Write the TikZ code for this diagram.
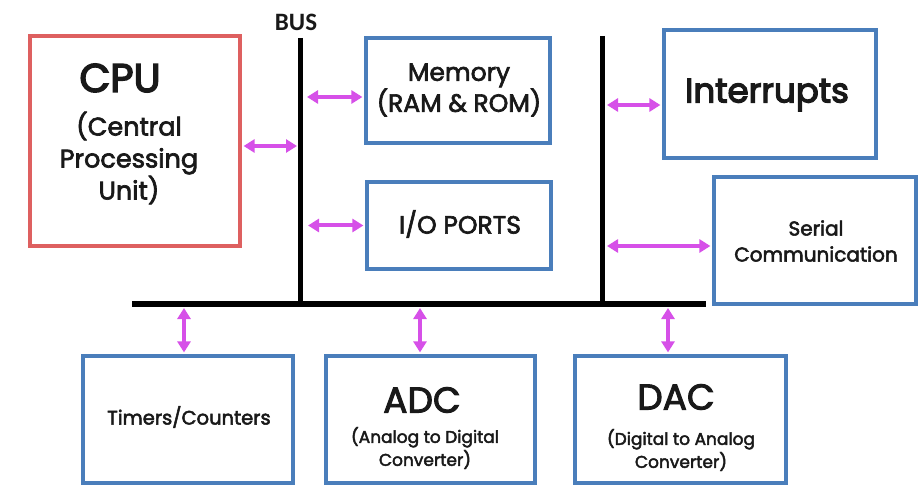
\documentclass[tikz,border=0pt]{standalone}
\usepackage{fontspec}
\setmainfont{Poppins}[FakeBold=2.6]
\newfontfamily\heavy{Poppins}[FakeBold=3.8]
\newfontfamily\busfont{Carlito}
\usetikzlibrary{arrows.meta,calc}
\definecolor{boxred}{RGB}{222,96,96}
\definecolor{boxblue}{RGB}{74,126,187}
\definecolor{arrmag}{RGB}{214,80,232}
\definecolor{txt}{RGB}{25,25,25}
\tikzset{
  bluebox/.style={draw=boxblue,line width=3.2pt,inner sep=0pt},
  redbox/.style={draw=boxred,line width=3.2pt,inner sep=0pt},
  busline/.style={line width=5pt,black},
  biarr/.style={arrmag,line width=4pt,{Triangle[length=11pt,width=13pt]}-{Triangle[length=11pt,width=13pt]}},
  lbl/.style={text=txt,inner sep=0pt,align=center}
}
\begin{document}
\begin{tikzpicture}[x=1pt,y=-1pt]
\useasboundingbox (0,0) rectangle (918,486);
% boxes
\node (cpu) [redbox,minimum width=210pt,minimum height=210pt] at (135,141) {};
\node (mem) [bluebox,minimum width=184pt,minimum height=105pt] at (458,90.5) {};
\node (io)  [bluebox,minimum width=184pt,minimum height=87pt] at (459,225.5) {};
\node (intr) [bluebox,minimum width=212pt,minimum height=128pt] at (770,94) {};
\node (ser) [bluebox,minimum width=202pt,minimum height=127pt] at (815,240.5) {};
\node (tim) [bluebox,minimum width=210pt,minimum height=127pt] at (188,419.5) {};
\node (adc) [bluebox,minimum width=209pt,minimum height=127pt] at (430.5,419.5) {};
\node (dac) [bluebox,minimum width=211pt,minimum height=127pt] at (680.5,419.5) {};
% texts
\node (cpuT) [lbl,font=\heavy\fontsize{40}{40}\selectfont] at (120,78) {CPU};
\node (cpuS) [lbl,font=\fontsize{25.5}{32}\selectfont] at (129,158) {(Central\\Processing\\Unit)};
\node (memT) [lbl,font=\fontsize{25}{31}\selectfont] at (459,90) {Memory\\(RAM \& ROM)};
\node (intT) [lbl,font=\heavy\fontsize{34}{34}\selectfont] at (767,95) {Interrupts};
\node (ioT) [lbl,font=\fontsize{25}{25}\selectfont] at (460,224) {I/O PORTS};
\node (serT) [lbl,font=\fontsize{20}{26}\selectfont] at (816,241) {Serial\\Communication};
\node (timT) [lbl,font=\fontsize{19.5}{20}\selectfont] at (189,417) {Timers/Counters};
\node (adcT) [lbl,font=\fontsize{36}{36}\selectfont] at (422,400) {ADC};
\node (adcS) [lbl,font=\fontsize{17}{23}\selectfont] at (425,448) {(Analog to Digital\\Converter)};
\node (dacT) [lbl,font=\fontsize{36}{36}\selectfont] at (676,397) {DAC};
\node (dacS) [lbl,font=\fontsize{17}{23}\selectfont] at (681,450) {(Digital to Analog\\Converter)};
\node (busT) [lbl,font=\busfont\bfseries\fontsize{25}{25}\selectfont] at (296,22) {BUS};
% bus
\coordinate (b1t) at (300,38);
\coordinate (b1b) at (300,304);
\coordinate (b2t) at (602,36);
\coordinate (b2b) at (602,304);
\coordinate (hl) at (134,304);
\coordinate (hr) at (703,304);
\draw[busline] (b1t) -- (b1b);
\draw[busline] (b2t) -- (b2b);
\draw[busline,line cap=rect] (hl) -- (hr);
% arrows
\draw[biarr,shorten <=2pt,shorten >=3pt] ([yshift=-5pt]cpu.east) -- ([yshift=-5pt]cpu.east -| b1t);
\draw[biarr,shorten <=2pt,shorten >=7pt] ([yshift=-6.5pt]mem.west) -- ([yshift=-6.5pt]mem.west -| b1t);
\draw[biarr,shorten <=2pt,shorten >=8pt] (io.west) -- (io.west -| b1t);
\draw[biarr,shorten <=2pt,shorten >=5pt] ([yshift=-11pt]intr.west) -- ([yshift=-11pt]intr.west -| b2t);
\draw[biarr,shorten <=2pt,shorten >=5pt] ([yshift=-5.5pt]ser.west) -- ([yshift=-5.5pt]ser.west -| b2t);
\draw[biarr,shorten <=2pt,shorten >=4pt] ([xshift=-4pt]tim.north) -- ([xshift=-4pt]tim.north |- hl);
\draw[biarr,shorten <=2pt,shorten >=4pt] ([xshift=-10.5pt]adc.north) -- ([xshift=-10.5pt]adc.north |- hl);
\draw[biarr,shorten <=2pt,shorten >=4pt] ([xshift=-12.5pt]dac.north) -- ([xshift=-12.5pt]dac.north |- hl);
\end{tikzpicture}
\end{document}
